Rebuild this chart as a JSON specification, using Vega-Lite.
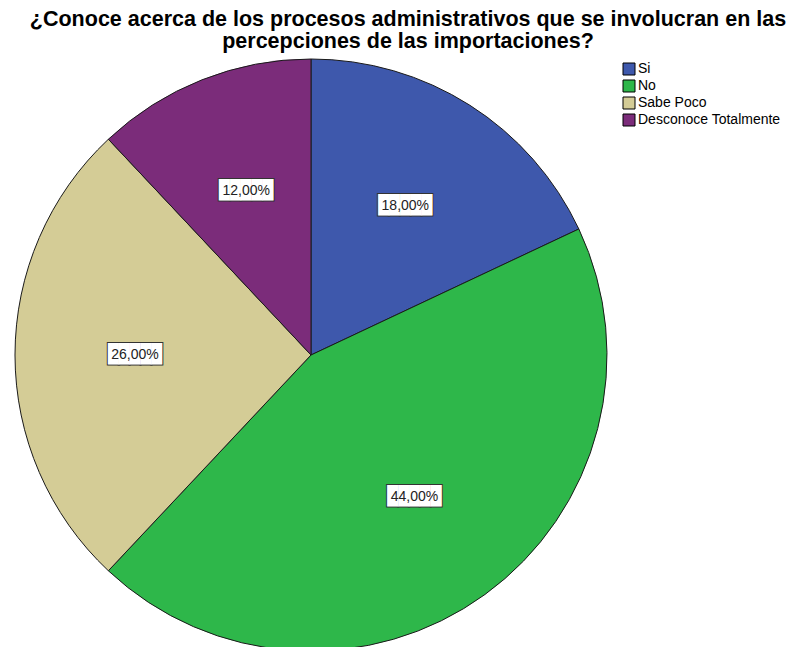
{
  "$schema": "https://vega.github.io/schema/vega-lite/v6.json",
  "autosize": "none",
  "width": 592,
  "height": 592,
  "padding": {"left": 15, "top": 59, "right": 183, "bottom": 0},
  "background": "white",
  "title": {
    "text": ["¿Conoce acerca de los procesos administrativos que se involucran en las", "percepciones de las importaciones?"],
    "font": "Liberation Sans",
    "fontSize": 21.5,
    "fontWeight": "bold",
    "color": "#000000",
    "anchor": "middle",
    "dx": 97,
    "offset": 5,
    "lineHeight": 22,
    "limit": 0
  },
  "data": {
    "values": [
      {"categoria": "Si", "porcentaje": 18, "orden": 1, "etiqueta": "18,00%"},
      {"categoria": "No", "porcentaje": 44, "orden": 2, "etiqueta": "44,00%"},
      {"categoria": "Sabe Poco", "porcentaje": 26, "orden": 3, "etiqueta": "26,00%"},
      {"categoria": "Desconoce Totalmente", "porcentaje": 12, "orden": 4, "etiqueta": "12,00%"}
    ]
  },
  "encoding": {
    "theta": {"field": "porcentaje", "type": "quantitative", "stack": true},
    "order": {"field": "orden", "type": "quantitative"}
  },
  "layer": [
    {
      "mark": {"type": "arc", "outerRadius": 296, "stroke": "#1a1a1a", "strokeWidth": 1},
      "encoding": {
        "color": {
          "field": "categoria",
          "type": "nominal",
          "scale": {
            "domain": ["Si", "No", "Sabe Poco", "Desconoce Totalmente"],
            "range": ["#3E58AC", "#2EB74A", "#D4CC96", "#7B2C7A"]
          },
          "legend": {
            "title": null,
            "orient": "none",
            "legendX": 607,
            "legendY": 3,
            "symbolType": "square",
            "symbolSize": 144,
            "symbolStrokeColor": "#000000",
            "symbolStrokeWidth": 1,
            "symbolOpacity": 1,
            "labelFont": "Liberation Sans",
            "labelFontSize": 14,
            "labelColor": "#000000",
            "labelOffset": 2,
            "labelLimit": 300,
            "rowPadding": 1
          }
        }
      }
    },
    {
      "mark": {"type": "text", "radius": 176, "text": "█████", "font": "DejaVu Sans Mono", "fontSize": 18, "fill": "#333333", "stroke": "#333333", "strokeWidth": 2, "baseline": "middle", "align": "center"}
    },
    {
      "mark": {"type": "text", "radius": 176, "text": "█████", "font": "DejaVu Sans Mono", "fontSize": 18, "fill": "#ffffff", "baseline": "middle", "align": "center"}
    },
    {
      "mark": {"type": "text", "radius": 176, "font": "Liberation Sans", "fontSize": 14, "fill": "#222222", "baseline": "middle", "align": "center"},
      "encoding": {"text": {"field": "etiqueta", "type": "nominal"}}
    }
  ]
}
